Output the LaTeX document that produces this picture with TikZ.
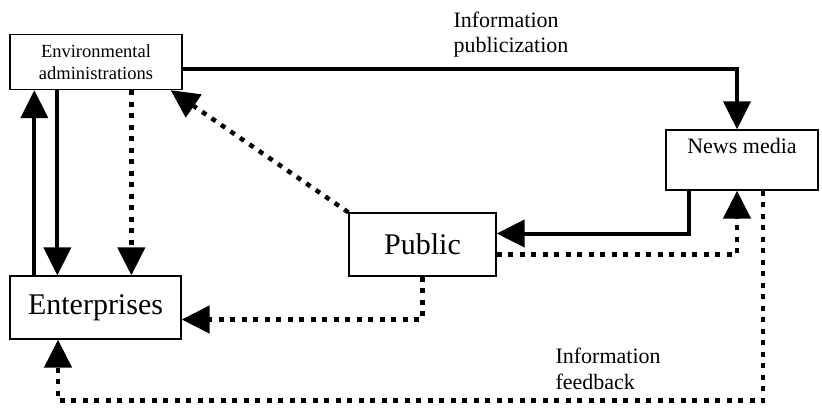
\documentclass[tikz,border=0pt]{standalone}
\usepackage{fontspec}
\setmainfont{Liberation Serif}
\usetikzlibrary{arrows.meta}

\begin{document}
\begin{tikzpicture}[x=1pt, y=-1pt,
        box/.style={draw, line width=1.3pt, inner sep=0pt, align=center},
        solidline/.style={line width=4pt, -{Triangle[length=28pt,width=27pt]}},
        dotline/.style={line width=4.5pt, dash pattern=on 5pt off 6.5pt, -{Triangle[length=28pt,width=27pt]}}]
        \useasboundingbox (0,0) rectangle (822,408);

        % Boxes
        \node[box, minimum width=172, minimum height=55, font=\fontsize{18.5}{22}\selectfont] (env) at (96,62) {Environmental\\administrations};
        \node[box, minimum width=171, minimum height=63, font=\fontsize{30}{32}\selectfont] (ent) at (95.5,307.5) {Enterprises};
        \node[box, minimum width=147, minimum height=63, font=\fontsize{30}{32}\selectfont] (public) at (422.5,244.5) {Public};
        \node[box, minimum width=152, minimum height=60] (news) at (742,160) {};
        \node[font=\fontsize{22}{24}\selectfont, anchor=north] (newslabel) at ([yshift=-5pt]news.north) {News media};

        % Labels
        \node[anchor=west, align=left, font=\fontsize{22}{25}\selectfont] (pubtext) at (450,35) {Information\\publicization};
        \node[anchor=west, align=left, font=\fontsize{22}{26}\selectfont] (fbtext) at (552,369) {Information\\feedback};

        % Solid connectors
        \draw[solidline] ([yshift=-7pt]env.east) -| ([xshift=-5pt]news.north);
        \draw[solidline] ([xshift=25pt]ent.north west) -- ([xshift=25pt]env.south west);
        \draw[solidline] ([xshift=48pt]env.south west) -- ([xshift=48pt]ent.north west);
        \draw[solidline] ([xshift=24pt]news.south west) |- ([yshift=11pt]public.east);

        % Dotted connectors
        \draw[dotline] ([xshift=122pt]env.south west) -- ([xshift=122pt]ent.north west);
        \draw[dotline] (public.north west) -- ([xshift=-12pt]env.south east);
        \draw[dotline] ([yshift=-10pt]public.east) -| ([xshift=-5pt]news.south);
        \draw[dotline] (public.south) |- ([yshift=-12pt]ent.east);
        \draw[dotline] ([xshift=21pt]news.south) -- ++(0,210) -| ([xshift=-37.5pt]ent.south);
\end{tikzpicture}
\end{document}
